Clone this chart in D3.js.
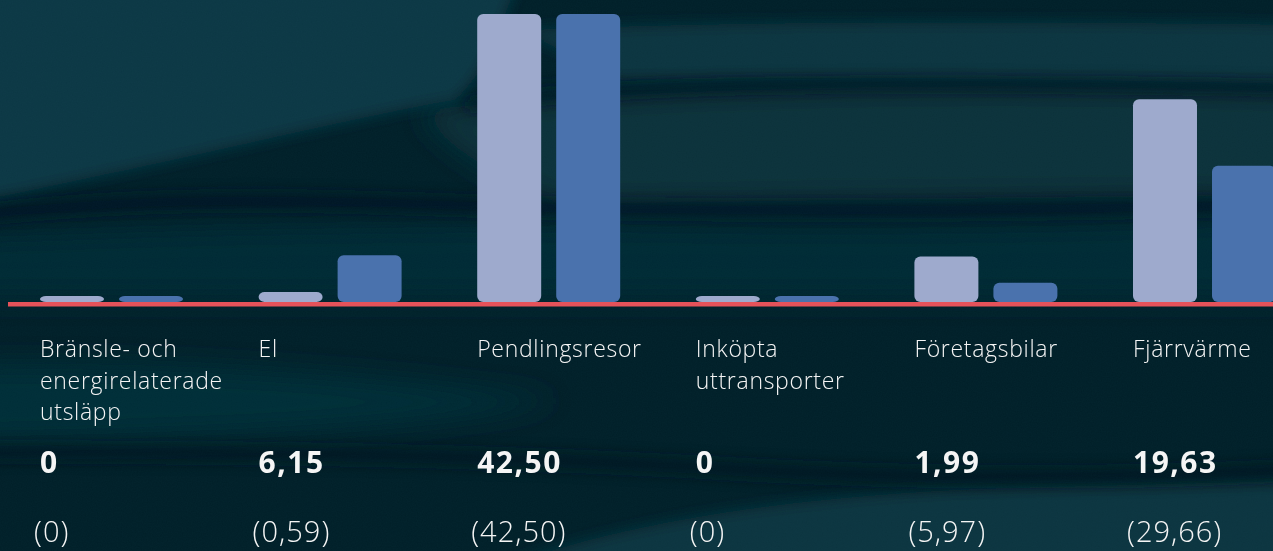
<!DOCTYPE html>
<html>
<head>
<meta charset="utf-8">
<script src="https://cdn.jsdelivr.net/npm/d3@7"></script>
<style>
  html, body { margin: 0; padding: 0; background: #022029; overflow: hidden; }
  svg { display: block; }
  text { fill: #f5f5f5; font-family: "Open Sans", sans-serif; }
</style>
</head>
<body>
<div id="chart"></div>
<script>
// data
const categories = ["Bränsle- och energirelaterade utsläpp", "El", "Pendlingsresor", "Inköpta uttransporter", "Företagsbilar", "Fjärrvärme"];
const categoryLines = [
    ["Bränsle- och", "energirelaterade", "utsläpp"],
    ["El"],
    ["Pendlingsresor"],
    ["Inköpta", "uttransporter"],
    ["Företagsbilar"],
    ["Fjärrvärme"]
];
const currentValues = [0, 6.15, 42.50, 0, 1.99, 19.63];   // bold numbers, blue bars
const previousValues = [0, 0.59, 42.50, 0, 5.97, 29.66];  // numbers in brackets, light bars
const seriesKeys = ["previous", "current"];
const seriesColors = { previous: "#9eaacd", current: "#4a72ad" };

const width = 1273, height = 551;
const baseline = 302;

const svg = d3.select("#chart").append("svg")
    .attr("width", width)
    .attr("height", height);

// ---- background: dark teal with soft waves ----
const defs = svg.append("defs");
function blurFilter(id, sd) {
    defs.append("filter").attr("id", id)
        .attr("x", "-30%").attr("y", "-60%").attr("width", "160%").attr("height", "220%")
        .append("feGaussianBlur").attr("stdDeviation", sd);
}
blurFilter("blurWide", 14);
blurFilter("blurSoft", 7);
const grain = defs.append("filter").attr("id", "grain");
grain.append("feTurbulence").attr("type", "fractalNoise").attr("baseFrequency", 0.8).attr("numOctaves", 2);
grain.append("feColorMatrix").attr("type", "matrix")
    .attr("values", "0 0 0 0 0.1  0 0 0 0 0.4  0 0 0 0 0.5  0 0 0 0.6 0");

const bg = svg.append("g").attr("class", "background");
bg.append("rect").attr("width", width).attr("height", height).attr("fill", "#022029");

const wide = bg.append("g").attr("filter", "url(#blurWide)");
// medium band between the two creases, behind the bars
wide.append("path").attr("fill", "#062b35")
    .attr("d", "M-40,235 C250,225 450,222 700,225 C950,228 1150,222 1320,215 L1320,298 L-40,298 Z");
// middle band on the right
wide.append("path").attr("fill", "#07303b")
    .attr("d", "M420,110 C600,92 800,86 1000,86 C1150,86 1250,90 1320,92 L1320,195 C1100,198 800,200 560,205 C480,170 440,140 420,110 Z");
// band behind the labels on the left
wide.append("path").attr("fill", "#062d38")
    .attr("d", "M-40,365 C150,360 350,372 560,400 C420,430 200,438 -40,442 Z");

const soft = bg.append("g").attr("filter", "url(#blurSoft)");
// top-left light area
soft.append("path").attr("fill", "#093845")
    .attr("d", "M-40,-20 L520,-20 C500,20 490,70 455,100 C350,118 230,150 -40,205 Z");
// ribbon across the top right
soft.append("path").attr("fill", "#08343f")
    .attr("d", "M520,30 C700,22 950,20 1320,25 L1320,85 C1100,80 850,76 620,80 C580,60 550,45 520,30 Z");
// band at the bottom right
soft.append("path").attr("fill", "#083541")
    .attr("d", "M480,575 C620,520 800,495 1000,488 C1150,484 1250,482 1320,480 L1320,600 L480,600 Z");

// dark creases
const creases = bg.append("g").attr("filter", "url(#blurSoft)")
    .attr("fill", "none").attr("stroke", "#011a21").attr("stroke-linecap", "round");
creases.append("path").attr("stroke-width", 10).attr("opacity", 0.9)
    .attr("d", "M470,105 C600,85 800,80 1300,88");
creases.append("path").attr("stroke-width", 14).attr("opacity", 0.9)
    .attr("d", "M-20,215 C200,190 380,205 560,208 C800,212 1000,210 1300,205");
creases.append("path").attr("stroke-width", 14).attr("opacity", 0.8)
    .attr("d", "M-20,452 C250,452 500,455 750,470 C950,480 1150,478 1300,470");

bg.append("rect").attr("width", width).attr("height", height)
    .attr("filter", "url(#grain)").attr("opacity", 0.06);

// ---- scales ----
const x0 = d3.scaleBand()
    .domain(categories)
    .range([40, 40 + 218.6 * categories.length])
    .paddingInner(0);

const x1 = d3.scaleBand()
    .domain(seriesKeys)
    .range([0, 143])
    .paddingInner(0.19);

const y = d3.scaleLinear()
    .domain([0, 42.5])
    .range([baseline - 6, 14]);

const rows = categories.map((c, i) => ({
    category: c,
    lines: categoryLines[i],
    previous: previousValues[i],
    current: currentValues[i]
}));

// ---- bars ----
const groups = svg.selectAll("g.group")
    .data(rows)
    .enter()
    .append("g")
    .attr("class", "group")
    .attr("transform", d => `translate(${x0(d.category)},0)`);

groups.selectAll("rect")
    .data(d => seriesKeys.map(k => ({ key: k, value: d[k] })))
    .enter()
    .append("rect")
    .attr("x", d => x1(d.key))
    .attr("y", d => y(d.value))
    .attr("width", x1.bandwidth())
    .attr("height", d => baseline - y(d.value))
    .attr("rx", 6)
    .attr("fill", d => seriesColors[d.key]);

// red baseline
svg.append("line")
    .attr("x1", 8)
    .attr("x2", width)
    .attr("y1", baseline + 2.3)
    .attr("y2", baseline + 2.3)
    .attr("stroke", "#e5525a")
    .attr("stroke-width", 4.6);

// ---- labels ----
const fmt = v => v === 0 ? "0" : v.toFixed(2).replace(".", ",");

groups.append("text")
    .attr("font-size", "23px")
    .attr("font-weight", 300)
    .attr("letter-spacing", "0.7px")
    .selectAll("tspan")
    .data(d => d.lines)
    .enter()
    .append("tspan")
    .attr("x", 0)
    .attr("y", (d, i) => 357 + 31.5 * i)
    .text(d => d);

groups.append("text")
    .attr("x", 0)
    .attr("y", 473)
    .attr("font-size", "30px")
    .attr("font-weight", 700)
    .attr("letter-spacing", "1.5px")
    .text(d => fmt(d.current));

groups.append("text")
    .attr("x", -6)
    .attr("y", 542)
    .attr("font-size", "29px")
    .attr("font-weight", 300)
    .attr("letter-spacing", "1px")
    .text(d => "(" + fmt(d.previous) + ")");
</script>
</body>
</html>
